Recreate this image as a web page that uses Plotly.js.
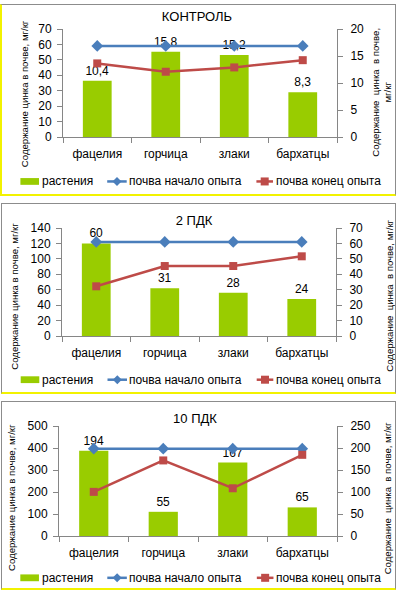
<!DOCTYPE html>
<html>
<head>
<meta charset="utf-8">
<script src="https://cdn.plot.ly/plotly-3.0.1.min.js"></script>
<style>
  body { margin: 0; background: #fff; width: 402px; height: 592px; overflow: hidden; }
  .panel { position: absolute; border: 1px solid #8c8c8c; border-bottom: 2px solid #f2f200; background: #fff; }
</style>
</head>
<body>
<div id="p1" class="panel" style="left:0px; top:4px; width:393px; height:189px; border-left:2px solid #f2f200;"></div>
<div id="p2" class="panel" style="left:1px; top:203px; width:393px; height:188px;"></div>
<div id="p3" class="panel" style="left:1px; top:401px; width:393px; height:186px;"></div>
<script>
// ---- data ----
const categories = ['фацелия', 'горчица', 'злаки', 'бархатцы'];
const seriesNames = ['растения', 'почва начало опыта', 'почва конец опыта'];
const chartTitles = ['КОНТРОЛЬ', '2 ПДК', '10 ПДК'];
const axisTitle = 'Содержание цинка в почве, мг/кг';
const axisTitleRight = 'Содержание\u00a0\u00a0цинка\u00a0\u00a0в почве, мг/кг';
const axisTitleRightWrapped = 'Содержание\u00a0\u00a0цинка\u00a0\u00a0в почве,<br>мг/кг';

// plants (right axis), soil start / soil end (left axis)
const plantsControl = [10.4, 15.8, 15.2, 8.3];
const soilStartControl = [59, 59, 59, 59];
const soilEndControl = [47.7, 42.3, 45.1, 49.8];

const plants2 = [60, 31, 28, 24];
const soilStart2 = [122, 122, 122, 122];
const soilEnd2 = [64.4, 90.7, 90.7, 103.3];

const plants10 = [194, 55, 167, 65];
const soilStart10 = [397, 397, 397, 397];
const soilEnd10 = [200.6, 343.5, 217, 369];

const leftRanges = [[0, 70], [0, 140], [0, 500]];
const leftDticks = [10, 20, 100];
const rightRanges = [[0, 20], [0, 70], [0, 250]];
const rightDticks = [5, 10, 50];

// ---- styling / layout (page-pixel geometry) ----
const GREEN = '#99cc00', BLUE = '#4a7ebb', RED = '#be4b48', AXIS = '#868686';
const FONT = 'Liberation Sans, Arial, sans-serif';

const panels = [
  { id: 'p1', ox: 2, oy: 5, W: 393, H: 189, plot: [63.3, 28.7, 337.3, 137.3],
    title: [197, 16], leftTitle: [25, 93.5], rightTitle: [382, 92], rightTwoLines: true, legendY: 182 },
  { id: 'p2', ox: 2, oy: 204, W: 393, H: 188, plot: [62, 228.3, 336, 336.3],
    title: [194, 220], leftTitle: [15, 297], rightTitle: [390, 296], rightTwoLines: false, legendY: 380 },
  { id: 'p3', ox: 2, oy: 402, W: 393, H: 186, plot: [59.3, 426.3, 336.7, 536],
    title: [195, 418], leftTitle: [12.5, 498], rightTitle: [387, 498], rightTwoLines: false, legendY: 577.7 }
];

const plantsAll = [plantsControl, plants2, plants10];
const startAll = [soilStartControl, soilStart2, soilStart10];
const endAll = [soilEndControl, soilEnd2, soilEnd10];

panels.forEach((p, i) => {
  const l = p.plot[0] - p.ox, t = p.plot[1] - p.oy;
  const pw = p.plot[2] - p.plot[0], ph = p.plot[3] - p.plot[1];
  const r = p.W - l - pw, b = p.H - t - ph;
  const px = X => (X - p.plot[0]) / pw;
  const py = Y => (p.plot[3] - Y) / ph;
  const LY = p.legendY;

  const traces = [
    { type: 'bar', name: seriesNames[0], x: categories, y: plantsAll[i], xaxis: 'x', yaxis: 'y',
      marker: { color: GREEN }, texttemplate: '%{y}', textposition: 'outside', cliponaxis: false,
      textfont: { family: FONT, size: 12, color: '#000' } },
    { type: 'scatter', mode: 'lines+markers', name: seriesNames[1], x: categories, y: startAll[i],
      xaxis: 'x', yaxis: 'y2', line: { color: BLUE, width: 2.5 },
      marker: { symbol: 'diamond', size: 9, color: BLUE } },
    { type: 'scatter', mode: 'lines+markers', name: seriesNames[2], x: categories, y: endAll[i],
      xaxis: 'x', yaxis: 'y2', line: { color: RED, width: 2.5 },
      marker: { symbol: 'square', size: 8, color: RED } }
  ];

  const titleFont = { family: FONT, size: 9.6, color: '#000' };
  const legFont = { family: FONT, size: 12, color: '#000' };

  const shapes = [
    // legend keys
    { type: 'rect', xref: 'paper', yref: 'paper', x0: px(20.7), x1: px(39.3), y0: py(LY + 3.4), y1: py(LY - 3.4),
      fillcolor: GREEN, line: { width: 0 } },
    { type: 'line', xref: 'paper', yref: 'paper', x0: px(107.5), x1: px(127), y0: py(LY), y1: py(LY),
      line: { color: BLUE, width: 2.5 } },
    { type: 'path', xref: 'paper', yref: 'paper', xsizemode: 'pixel', ysizemode: 'pixel',
      xanchor: px(117.3), yanchor: py(LY), path: 'M0,4.5L4.5,0L0,-4.5L-4.5,0Z', fillcolor: BLUE, line: { width: 0 } },
    { type: 'line', xref: 'paper', yref: 'paper', x0: px(256.7), x1: px(273.3), y0: py(LY), y1: py(LY),
      line: { color: RED, width: 2.5 } },
    { type: 'path', xref: 'paper', yref: 'paper', xsizemode: 'pixel', ysizemode: 'pixel',
      xanchor: px(265), yanchor: py(LY), path: 'M-4,-4H4V4H-4Z', fillcolor: RED, line: { width: 0 } }
  ];

  const layout = {
    width: p.W, height: p.H,
    margin: { l: l, r: r, t: t, b: b, pad: 0, autoexpand: false },
    paper_bgcolor: '#fff', plot_bgcolor: '#fff',
    separators: ', ',
    font: { family: FONT, size: 12, color: '#000' },
    title: { text: chartTitles[i], font: { family: FONT, size: 13, color: '#000' },
      xref: 'container', x: (p.title[0] - p.ox) / p.W, xanchor: 'center',
      yref: 'container', y: 1 - (p.title[1] - p.oy) / p.H, yanchor: 'middle' },
    bargap: 0.58,
    showlegend: false,
    xaxis: { type: 'category', showline: true, linecolor: AXIS, linewidth: 1, ticks: 'outside',
      tickson: 'boundaries', ticklen: 5, tickcolor: AXIS, showgrid: false, zeroline: false, automargin: false,
      ticklabelstandoff: 6, tickfont: { family: FONT, size: 12, color: '#000' } },
    yaxis: { side: 'right', range: rightRanges[i], dtick: rightDticks[i], showline: true, linecolor: AXIS,
      ticks: 'outside', ticklen: 5, tickcolor: AXIS, showgrid: false, zeroline: false, automargin: false,
      ticklabelstandoff: 5, tickfont: { family: FONT, size: 12, color: '#000' } },
    yaxis2: { side: 'left', overlaying: 'y', range: leftRanges[i], dtick: leftDticks[i], showline: true,
      linecolor: AXIS, ticks: 'outside', ticklen: 5, tickcolor: AXIS, showgrid: false, zeroline: false,
      automargin: false, ticklabelstandoff: 3, tickfont: { family: FONT, size: 12, color: '#000' } },
    shapes: shapes,
    annotations: [
      { text: axisTitle, xref: 'paper', yref: 'paper', x: px(p.leftTitle[0]), y: py(p.leftTitle[1]),
        xanchor: 'center', yanchor: 'middle', textangle: -90, showarrow: false, font: titleFont },
      { text: p.rightTwoLines ? axisTitleRightWrapped : axisTitleRight, xref: 'paper', yref: 'paper',
        x: px(p.rightTitle[0]), y: py(p.rightTitle[1]),
        xanchor: 'center', yanchor: 'middle', textangle: -90, showarrow: false, font: titleFont },
      { text: seriesNames[0], xref: 'paper', yref: 'paper', x: px(41), y: py(LY), xanchor: 'left',
        yanchor: 'middle', showarrow: false, font: legFont, borderpad: 0 },
      { text: seriesNames[1], xref: 'paper', yref: 'paper', x: px(128), y: py(LY), xanchor: 'left',
        yanchor: 'middle', showarrow: false, font: legFont, borderpad: 0 },
      { text: seriesNames[2], xref: 'paper', yref: 'paper', x: px(275), y: py(LY), xanchor: 'left',
        yanchor: 'middle', showarrow: false, font: legFont, borderpad: 0 }
    ]
  };
  Plotly.newPlot(p.id, traces, layout, { staticPlot: true, displayModeBar: false });
});
</script>
</body>
</html>
